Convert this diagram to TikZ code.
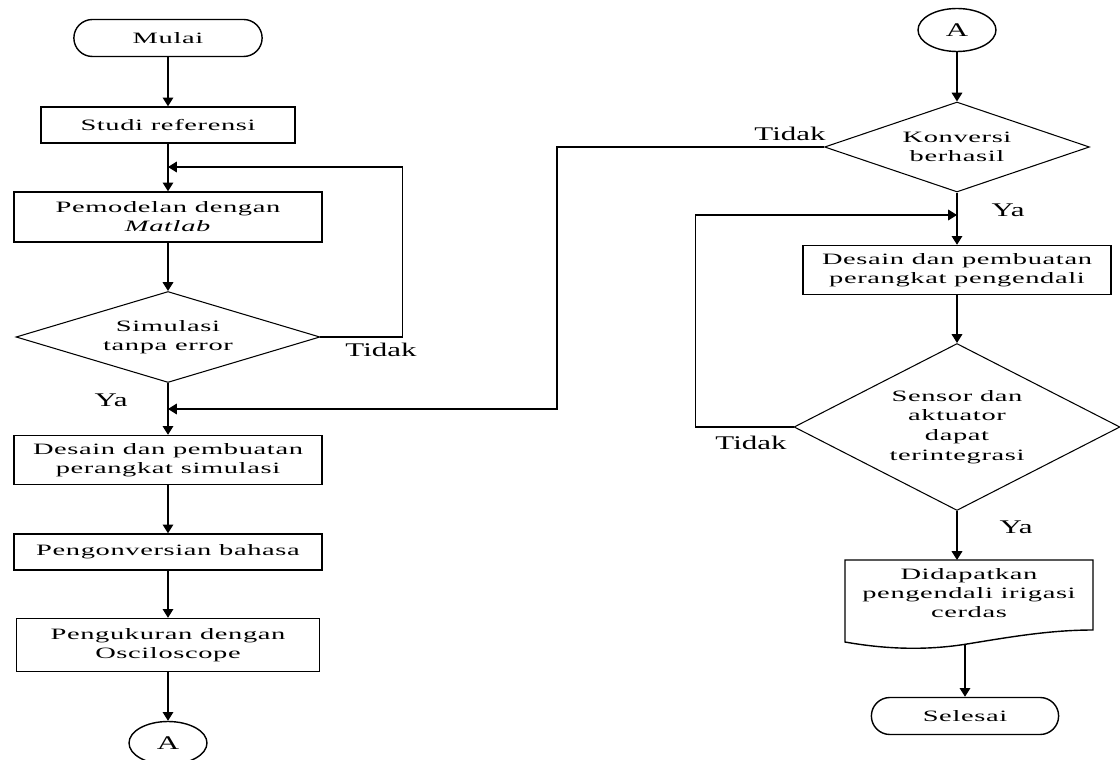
\documentclass[tikz,border=0pt]{standalone}
\usepackage{fontspec}
\setmainfont{Liberation Serif}[FakeStretch=1.8,LetterSpace=4]
\newfontfamily\lblfont{Liberation Serif}[FakeStretch=1.6]
\usetikzlibrary{shapes.geometric,shapes.misc,arrows.meta}

\begin{document}
\begin{tikzpicture}[x=0.02cm, y=-0.02cm,
    font=\fontsize{9}{10.8}\selectfont,
    proc/.style={draw, line width=0.8pt, align=center, inner sep=0pt},
    term/.style={draw, rounded rectangle, line width=0.8pt, minimum height=0.74cm},
    dec/.style={draw, diamond, line width=0.6pt, align=center, inner sep=0pt},
    conn/.style={draw, ellipse, line width=0.8pt, minimum width=1.56cm, minimum height=0.86cm, font=\lblfont\fontsize{11}{13}\selectfont},
    lbl/.style={font=\lblfont\fontsize{11}{13}\selectfont},
    arr/.style={-{Triangle[width=6pt,length=5pt]}, line width=0.9pt}]
  \useasboundingbox (0,0) rectangle (1120,760);
  % kolom kiri
  \node [term, minimum width=4cm] (mulai) at (168,38) {Mulai};
  \node [proc, minimum width=5.08cm, minimum height=0.72cm] (studi) at (168,125) {Studi referensi};
  \node [proc, minimum width=6.16cm, minimum height=1cm] (model) at (168,217) {Pemodelan dengan\\\textit{Matlab}};
  \node [dec, aspect=3.34, minimum width=6.08cm, minimum height=1.82cm] (sim) at (168,337) {Simulasi\\tanpa error};
  \node [proc, minimum width=6.16cm, minimum height=0.98cm] (desain1) at (168,460) {Desain dan pembuatan\\perangkat simulasi};
  \node [proc, minimum width=6.16cm, minimum height=0.72cm] (bahasa) at (168,552) {Pengonversian bahasa};
  \node [proc, minimum width=6.06cm, minimum height=1.06cm] (ukur) at (168,645) {Pengukuran dengan\\Osciloscope};
  \node [conn] (a1) at (168,743) {A};
  % kolom kanan
  \node [conn] (a2) at (957,30) {A};
  \node [dec, aspect=2.94, minimum width=5.3cm, minimum height=1.8cm] (konv) at (957,147) {Konversi\\berhasil};
  \node [proc, minimum width=6.16cm, minimum height=0.98cm] (desain2) at (957,270) {Desain dan pembuatan\\perangkat pengendali};
  \node [dec, aspect=1.95, minimum width=6.52cm, minimum height=3.34cm, font=\fontsize{9}{11.3}\selectfont] (sensor) at (957,427) {Sensor dan\\aktuator\\dapat\\terintegrasi};
  \node [align=center] (hasil) at (969,593) {Didapatkan\\pengendali irigasi\\cerdas};
  \draw [line width=0.8pt] (845,560) -- (1093,560) -- (1093,630)
    .. controls (1050,630) and (1010,637) .. (967,644)
    .. controls (930,650) and (890,650) .. (845,642) -- cycle;
  \node [term, minimum width=3.98cm] (selesai) at (965,716) {Selesai};
  \coordinate (doctop) at (957,560);
  \coordinate (docbot) at (965,644);
  \coordinate (jt) at (168,167);
  \coordinate (jl) at (168,409);
  \coordinate (jr) at (957,215);
  % label
  \node [lbl] (t1) at (381,350) {Tidak};
  \node [lbl] (y1) at (111,400) {Ya};
  \node [lbl] (t2) at (790,134) {Tidak};
  \node [lbl] (y2) at (1008,210) {Ya};
  \node [lbl] (t3) at (751,443) {Tidak};
  \node [lbl] (y3) at (1016,527) {Ya};
  % panah
  \draw [arr] (mulai) -- (studi);
  \draw [arr] (studi) -- (model);
  \draw [arr] (model) -- (sim);
  \draw [arr] (sim) -- (desain1);
  \draw [arr] (desain1) -- (bahasa);
  \draw [arr] (bahasa) -- (ukur);
  \draw [arr] (ukur) -- (a1);
  \draw [arr] (sim.east) -- ++(82,0) |- (jt);
  \draw [arr] (a2) -- (konv);
  \draw [arr] (konv) -- (desain2);
  \draw [arr] (konv.west) -- ++(-267,0) |- (jl);
  \draw [arr] (desain2) -- (sensor);
  \draw [arr] (sensor.west) -- ++(-98,0) |- (jr);
  \draw [arr] (sensor) -- (doctop);
  \draw [arr] (docbot) -- (selesai);
\end{tikzpicture}
\end{document}
